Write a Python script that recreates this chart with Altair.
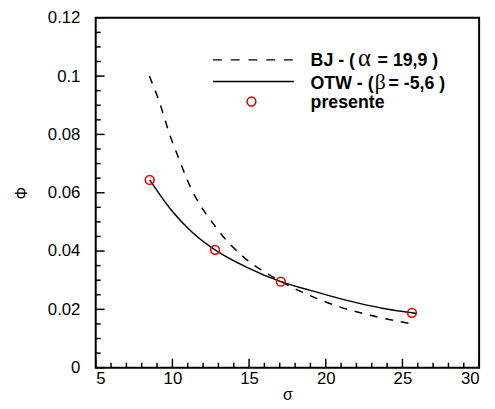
import altair as alt
import pandas as pd

# measured points ("presente")
sigma_pts = [8.52, 12.78, 17.07, 25.62]
phi_pts = [0.0644, 0.0404, 0.0295, 0.0188]

# BJ curve (dashed)
bj_sigma = [8.5, 9.06, 9.92, 10.46, 10.95, 12.93, 14.65, 16.36, 18.51, 20.76, 23.12, 25.5]
bj_phi = [0.100, 0.0925, 0.0785, 0.0712, 0.0646, 0.0475, 0.0379, 0.0317, 0.0258, 0.0211, 0.0177, 0.0151]

# OTW curve (solid)
otw_sigma = [8.52, 9.92, 11.2, 12.78, 14.86, 17.07, 18.94, 21.51, 23.67, 25.62, 25.92]
otw_phi = [0.0644, 0.0541, 0.0469, 0.0404, 0.0344, 0.0295, 0.0266, 0.0229, 0.0204, 0.0188, 0.0186]

x_major = [5, 10, 15, 20, 25, 30]
x_minor = [v for v in range(6, 30) if v % 5 != 0]
y_major = [0, 0.02, 0.04, 0.06, 0.08, 0.1, 0.12]
y_minor = [0.005, 0.01, 0.015, 0.025, 0.03, 0.035, 0.045, 0.05, 0.055, 0.065, 0.07, 0.075,
           0.085, 0.09, 0.095, 0.105, 0.11, 0.115]

# legend texts: (bold prefix, greek letter, bold suffix)
legend_prefix = ["BJ - (", "OTW - (", "presente"]
legend_greek = ["\u03b1", "\u03b2", ""]
legend_suffix = ["= 19,9 )", "= -5,6 )", ""]

W, H = 389, 355
FONT = "Liberation Sans"
RED = "#e60000"

xs = alt.Scale(domain=[5, 30], nice=False, zero=False)
ys = alt.Scale(domain=[0, 0.12], nice=False)

xaxis = alt.Axis(values=x_major, ticks=False, domain=False, grid=False,
                 labelFontSize=17, labelFont=FONT, labelPadding=3,
                 titleFontSize=16, titleFont=FONT, titleFontWeight="normal",
                 titlePadding=0, labelColor="black", titleColor="black")
yaxis = alt.Axis(values=y_major, labelExpr="format(datum.value, '.2~f')",
                 ticks=False, domain=False, grid=False,
                 labelFontSize=17, labelFont=FONT, labelPadding=16,
                 titleFontSize=16, titleFont=FONT, titleFontWeight="normal",
                 titlePadding=18, labelColor="black", titleColor="black")

def X(field):
    return alt.X(field + ":Q", scale=xs, title="\u03c3", axis=xaxis)

def Y(field):
    return alt.Y(field + ":Q", scale=ys, title="\u03a6", axis=yaxis)

pts = pd.DataFrame({"s": sigma_pts, "p": phi_pts})
bj = pd.DataFrame({"s": bj_sigma, "p": bj_phi})
otw = pd.DataFrame({"s": otw_sigma, "p": otw_phi})

bj_line = alt.Chart(bj).mark_line(color="black", strokeWidth=1.5, strokeDash=[8, 8],
                                  interpolate="monotone").encode(x=X("s"), y=Y("p"))
otw_line = alt.Chart(otw).mark_line(color="black", strokeWidth=1.5,
                                    interpolate="monotone").encode(x=X("s"), y=Y("p"))
points = alt.Chart(pts).mark_point(shape="circle", filled=False, color=RED, opacity=1,
                                   size=80, strokeWidth=1.6).encode(x=X("s"), y=Y("p"))

def xticks(vals, length):
    return alt.Chart(pd.DataFrame({"s": vals})).mark_rule(color="black", strokeWidth=1.5).encode(
        x=X("s"), y=alt.value(H), y2=alt.value(H - length))

def yticks(vals, length):
    return alt.Chart(pd.DataFrame({"p": vals})).mark_rule(color="black", strokeWidth=1.5).encode(
        y=Y("p"), x=alt.value(0), x2=alt.value(length))

one = pd.DataFrame({"k": [0]})
leg_dash = alt.Chart(one).mark_rule(color="black", strokeWidth=1.5, strokeDash=[9, 9]).encode(
    x=alt.value(119), x2=alt.value(201), y=alt.value(42.7))
leg_solid = alt.Chart(one).mark_rule(color="black", strokeWidth=1.5).encode(
    x=alt.value(119), x2=alt.value(201), y=alt.value(64.7))
leg_pt = alt.Chart(one).mark_point(shape="circle", filled=False, color=RED, opacity=1,
                                   size=80, strokeWidth=1.6).encode(
    x=alt.value(158), y=alt.value(85))

leg_texts = []
rows_y = [49.4, 72.0, 91.7]
text_x = 218
greek_x = [266, 283]
greek_size = [25, 22]
suffix_x = [286, 297]
for i, yy in enumerate(rows_y):
    leg_texts.append(alt.Chart(one).mark_text(align="left", baseline="alphabetic", fontSize=18,
                                              fontWeight="bold", font=FONT, color="black").encode(
        x=alt.value(text_x), y=alt.value(yy), text=alt.value(legend_prefix[i])))
    if legend_greek[i]:
        leg_texts.append(alt.Chart(one).mark_text(align="left", baseline="alphabetic",
                                                  fontSize=greek_size[i],
                                                  fontWeight="normal", font="Liberation Serif",
                                                  color="black").encode(
            x=alt.value(greek_x[i]), y=alt.value(yy), text=alt.value(legend_greek[i])))
        leg_texts.append(alt.Chart(one).mark_text(align="left", baseline="alphabetic", fontSize=18,
                                                  fontWeight="bold", font=FONT, color="black").encode(
            x=alt.value(suffix_x[i]), y=alt.value(yy), text=alt.value(legend_suffix[i])))

chart = alt.layer(
    bj_line, otw_line, points,
    xticks(x_minor, 5), xticks(x_major, 9), yticks(y_minor, 5), yticks(y_major, 9),
    leg_dash, leg_solid, leg_pt, *leg_texts
).properties(
    width=W, height=H,
    background="white",
    padding={"left": 89, "top": 7, "right": 8, "bottom": 38},
    autosize=alt.AutoSizeParams(type="none"),
).configure_view(stroke="black", strokeWidth=2)

chart.save("out.html", embed_options={"renderer": "svg", "actions": False})
